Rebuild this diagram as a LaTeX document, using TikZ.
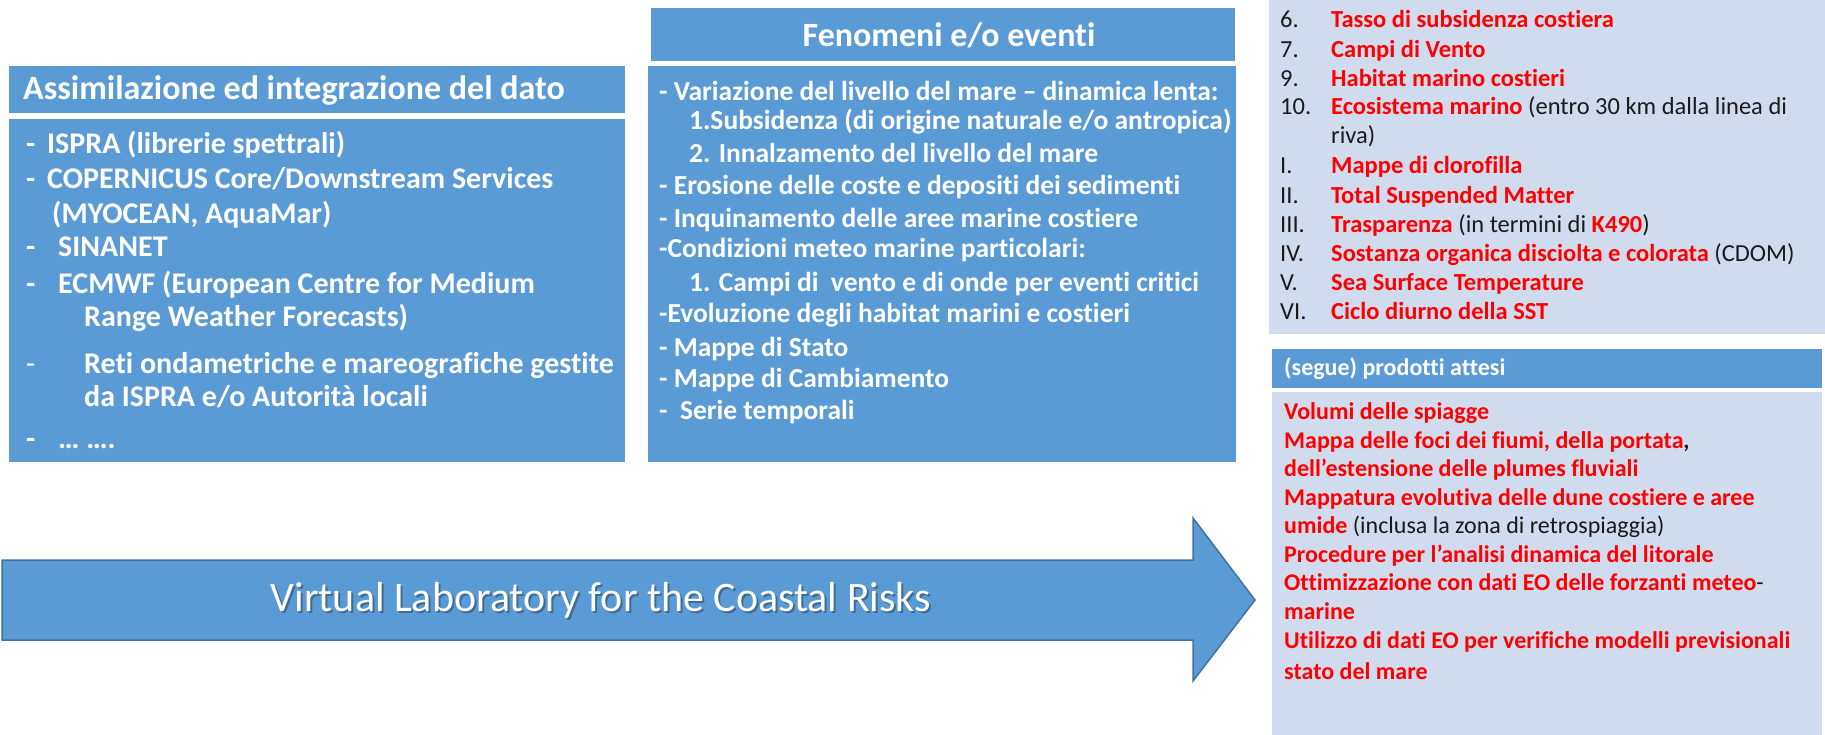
\documentclass[tikz,border=0pt]{standalone}
\usepackage{fontspec}
\setmainfont{Carlito}[Ligatures={TeX,NoCommon}]
\usepackage{xcolor}
\definecolor{Panel}{HTML}{5B9BD5}
\definecolor{Panel Light}{HTML}{D0DBEE}
\definecolor{Arrow Edge}{HTML}{41719C}
\definecolor{Product}{HTML}{FF0000}
\definecolor{Note}{HTML}{1A1A1A}

\tikzset{
  head/.style = {anchor=west, inner sep=0pt, text=white, font=\bfseries\fontsize{34}{40}\selectfont},
  bluetxt/.style = {anchor=base west, inner sep=0pt, text=white, font=\bfseries\fontsize{30}{36}\selectfont},
  redtxt/.style = {anchor=base west, inner sep=0pt, text=Note, font=\fontsize{24.5}{29}\selectfont}
}

\begin{document}
\begin{tikzpicture}[x=1pt, y=-1pt]
\useasboundingbox (0,0) rectangle (1825,735);

% red product names
\def\r#1{\textcolor{Product}{\bfseries #1}}

% Panels
\fill[Panel] (9,66) rectangle (625,113);
\fill[Panel] (9,119) rectangle (625,462);
\fill[Panel] (651,8) rectangle (1235,61);
\fill[Panel] (648,66) rectangle (1236,462);
\fill[Panel Light] (1269,0) rectangle (1825,334);
\fill[Panel] (1272,349) rectangle (1822,388);
\fill[Panel Light] (1272,392) rectangle (1822,735);

% Titles
\node[head] (lt) at (23,90) {Assimilazione ed integrazione del dato};
\node[head, anchor=center] (mt) at (949,35) {Fenomeni e/o eventi};
\node[head, font=\bfseries\fontsize{24}{29}\selectfont] (rt) at (1284,369) {(segue) prodotti attesi};

% Left list
\foreach \x/\y/\t [count=\i] in {
  26/145/-, 47/145/{ISPRA (librerie spettrali)},
  26/180/-, 47/180/{COPERNICUS Core/Downstream Services},
  52/215/{(MYOCEAN, AquaMar)},
  26/248/-, 58/248/{SINANET},
  26/285/-, 58/285/{ECMWF (European Centre for Medium},
  84/317/{Range Weather Forecasts)},
  84/364/{Reti ondametriche e mareografiche gestite},
  84/397/{da ISPRA e/o Autorità locali},
  26/439/-, 58/439/{… ….}}
  \node[bluetxt] (l\i) at (\x,\y+9) {\t};
\node[bluetxt, font=\fontsize{30}{36}\selectfont] (ldash) at (26,373) {-};

% Middle list
\foreach \x/\y/\t [count=\i] in {
  659/92/{- Variazione del livello del mare -- dinamica lenta:},
  689/121/{1.Subsidenza (di origine naturale e/o antropica)},
  689/154/{2. Innalzamento del livello del mare},
  659/186/{- Erosione delle coste e depositi dei sedimenti},
  659/219/{- Inquinamento delle aree marine costiere},
  659/249/{-Condizioni meteo marine particolari:},
  689/283/{1. Campi di\ \ vento e di onde per eventi critici},
  659/314/{-Evoluzione degli habitat marini e costieri},
  659/348/{- Mappe di Stato},
  659/379/{- Mappe di Cambiamento},
  659/411/{-\ \ Serie temporali}}
  \node[bluetxt, font=\bfseries\fontsize{27.5}{33}\selectfont] (m\i) at (\x,\y+8.5) {\t};

% Right list, upper part
\foreach \n/\y/\t [count=\i] in {
  6./20/{\r{Tasso di subsidenza costiera}},
  7./50/{\r{Campi di Vento}},
  9./79/{\r{Habitat marino costieri}},
  10./107/{\r{Ecosistema marino} (entro 30 km dalla linea di},
  /136/{riva)},
  I./166/{\r{Mappe di clorofilla}},
  II./196/{\r{Total Suspended Matter}},
  III./225/{\r{Trasparenza} (in termini di \r{K490})},
  IV./254/{\r{Sostanza organica disciolta e colorata} (CDOM)},
  V./283/{\r{Sea Surface Temperature}},
  VI./312/{\r{Ciclo diurno della SST}}}
{
  \node[redtxt] (n\i) at (1280,\y+7.5) {\n};
  \node[redtxt] (p\i) at (1331,\y+7.5) {\t};
}

% Right list, lower part
\foreach \y/\t [count=\i] in {
  412/{\r{Volumi delle spiagge}},
  441/{\r{Mappa delle foci dei fiumi, della portata}\textbf{,}},
  469/{\r{dell'estensione delle plumes fluviali}},
  498/{\r{Mappatura evolutiva delle dune costiere e aree}},
  526/{\r{umide} (inclusa la zona di retrospiaggia)},
  555/{\r{Procedure per l'analisi dinamica del litorale}},
  583/{\r{Ottimizzazione con dati EO delle forzanti meteo}-},
  612/{\r{marine}},
  641/{\r{Utilizzo di dati EO per verifiche modelli previsionali}},
  672/{\r{stato del mare}}}
  \node[redtxt, font=\fontsize{24}{29}\selectfont] (q\i) at (1284,\y+7.5) {\t};

% Arrow
\coordinate (a1) at (2,560);
\coordinate (a2) at (1193,560);
\coordinate (a3) at (1193,518);
\coordinate (tip) at (1255,600);
\coordinate (a4) at (1193,681);
\coordinate (a5) at (1193,640);
\coordinate (a6) at (2,640);
\filldraw[fill=Panel, draw=Arrow Edge, line width=1.5pt, line join=miter]
  (a1)--(a2)--(a3)--(tip)--(a4)--(a5)--(a6)--cycle;

\node[inner sep=0pt, text=black, opacity=0.3, font=\fontsize{42}{50}\selectfont] (vls) at (603,602) {Virtual Laboratory for the Coastal Risks};
\node[inner sep=0pt, text=white, font=\fontsize{42}{50}\selectfont] (vl) at (601,600) {Virtual Laboratory for the Coastal Risks};

\end{tikzpicture}
\end{document}
